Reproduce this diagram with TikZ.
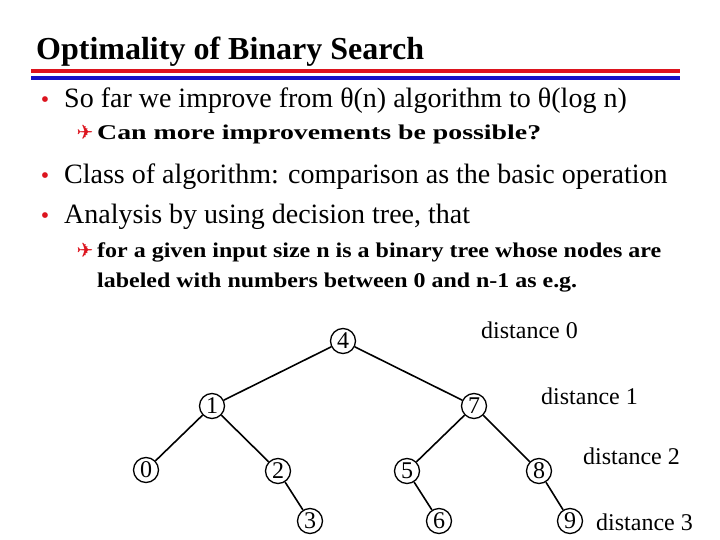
\documentclass[tikz,border=0pt]{standalone}
\usepackage{fontspec}
\setmainfont{Liberation Serif}
\newfontfamily\djv{DejaVu Sans}
\definecolor{tred}{RGB}{220,20,30}
\definecolor{tblue}{RGB}{20,20,200}
\newcommand{\fitw}[2]{\resizebox{#1}{\height}{#2}}
\begin{document}
\begin{tikzpicture}[x=1pt,y=-1pt,
  txt/.style={anchor=base west,inner sep=0pt,font=\fontsize{28}{32}\selectfont},
  sub/.style={anchor=base west,inner sep=0pt,font=\fontsize{21}{24}\selectfont\bfseries},
  dist/.style={anchor=base west,inner sep=0pt,font=\fontsize{24}{26}\selectfont},
  bul/.style={anchor=base,inner sep=0pt,text=tred,font=\fontsize{24}{28}\selectfont},
  arr/.style={anchor=base,inner sep=0pt,text=tred,font=\fontsize{20}{22}\djv},
  tn/.style={circle,draw,line width=1.3pt,minimum size=25pt,inner sep=0pt,font=\fontsize{24}{26}\selectfont},
  edge/.style={line width=1.6pt}]
\useasboundingbox (0,0) rectangle (720,540);
\node[anchor=base west,inner sep=0pt,font=\fontsize{32}{36}\selectfont\bfseries] (title) at (36,60) {Optimality of Binary Search};
\draw[tred,line width=4pt] (31,71) -- (680,71);
\draw[tblue,line width=4pt] (31,78) -- (680,78);
\node[bul] (b1) at (45,108) {•};
\node[txt] (t1) at (64,108) {So far we improve from θ(n) algorithm to θ(log n)};
\node[arr] (a1) at (85,140) {✈};
\node[sub] (s1) at (97,140) {\fitw{444pt}{Can more improvements be possible?}};
\node[bul] (b2) at (45,184) {•};
\node[txt] (t2) at (64,184) {Class of algorithm: comparison as the basic operation};
\node[bul] (b3) at (45,224) {•};
\node[txt] (t3) at (64,224) {Analysis by using decision tree, that};
\node[arr] (a2) at (85,258) {✈};
\node[sub] (s2) at (97,258) {\fitw{564pt}{for a given input size n is a binary tree whose nodes are}};
\node[sub] (s3) at (97,287) {\fitw{480pt}{labeled with numbers between 0 and n-1 as e.g.}};
\node[tn] (n4) at (343,341) {4};
\node[tn] (n1) at (212,406) {1};
\node[tn] (n7) at (474,406) {7};
\node[tn] (n0) at (146,470) {0};
\node[tn] (n2) at (278,471) {2};
\node[tn] (n5) at (407,471) {5};
\node[tn] (n8) at (539,471) {8};
\node[tn] (n3) at (310,521) {3};
\node[tn] (n6) at (439,521) {6};
\node[tn] (n9) at (570,521) {9};
\draw[edge] (n4)--(n1); \draw[edge] (n4)--(n7);
\draw[edge] (n1)--(n0); \draw[edge] (n1)--(n2);
\draw[edge] (n7)--(n5); \draw[edge] (n7)--(n8);
\draw[edge] (n2)--(n3); \draw[edge] (n5)--(n6); \draw[edge] (n8)--(n9);
\node[dist] (d0) at (481,338) {distance 0};
\node[dist] (d1) at (541,404) {distance 1};
\node[dist] (d2) at (583,464) {distance 2};
\node[dist] (d3) at (596,530) {distance 3};
\end{tikzpicture}
\end{document}
